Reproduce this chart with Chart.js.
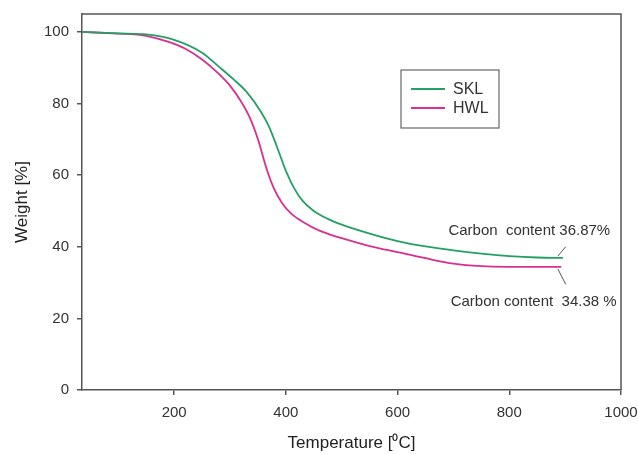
<!DOCTYPE html>
<html>
<head>
<meta charset="utf-8">
<script src="https://cdn.jsdelivr.net/npm/chart.js@4.4.0/dist/chart.umd.min.js"></script>
<style>
  html, body { margin: 0; padding: 0; background: #fff; }
  #wrap { width: 638px; height: 454px; }
</style>
</head>
<body>
<div id="wrap"><canvas id="tgaChart"></canvas></div>
<script>
// TGA curves
const sklTemp = [35, 100, 150, 200, 250, 280, 306, 330, 355, 370, 385, 400, 415, 430, 450, 475, 500, 550, 600, 650, 700, 750, 800, 850, 896];
const sklWeight = [100, 99.6, 99.3, 97.8, 94.2, 90.3, 86.8, 83.2, 77.8, 73.5, 67.5, 61.2, 56.3, 52.8, 50.0, 47.8, 46.2, 43.7, 41.6, 40.1, 39.0, 38.1, 37.4, 37.0, 36.9];

const hwlTemp = [35, 100, 130, 150, 190, 220, 250, 280, 300, 320, 335, 350, 365, 378, 393, 410, 430, 460, 500, 550, 600, 650, 700, 750, 800, 850, 893];
const hwlWeight = [100, 99.5, 99.3, 98.9, 97.2, 95.3, 92.3, 88.3, 85.0, 80.5, 76.2, 70.0, 62.0, 56.5, 52.2, 49.2, 47.0, 44.5, 42.4, 40.2, 38.5, 36.8, 35.3, 34.6, 34.4, 34.38, 34.38];

const xTicks = [200, 400, 600, 800, 1000];
const yTicks = [0, 20, 40, 60, 80, 100];

const seriesNames = ['SKL', 'HWL'];
const seriesColors = ['#23a063', '#d92f8f'];

// annotation texts with their anchor (temperature, weight)
const notes = [
  { text: 'Carbon  content 36.87%', x: 691, y: 44.4, from: [887, 37.4], to: [901, 40.0] },
  { text: 'Carbon content  34.38 %', x: 695, y: 24.5, from: [887, 33.8], to: [901, 29.5] }
];

const toPoints = (xs, ys) => xs.map((x, i) => ({ x: x, y: ys[i] }));

const FONT = "'Liberation Sans', Arial, sans-serif";
const axisColor = '#555';

const extras = {
  id: 'extras',
  afterDraw(chart) {
    const ctx = chart.ctx;
    const a = chart.chartArea;
    const xs = chart.scales.x, ys = chart.scales.y;
    ctx.save();
    // frame top + right
    ctx.strokeStyle = axisColor;
    ctx.lineWidth = 1.5;
    ctx.beginPath();
    ctx.moveTo(a.left, a.top);
    ctx.lineTo(a.right, a.top);
    ctx.lineTo(a.right, a.bottom);
    ctx.stroke();

    // legend box
    ctx.strokeStyle = '#666';
    ctx.lineWidth = 1.2;
    ctx.strokeRect(401, 70, 98, 58);
    ctx.font = '16px ' + FONT;
    ctx.textBaseline = 'middle';
    ctx.textAlign = 'left';
    seriesNames.forEach((name, i) => {
      const y = 89 + i * 19;
      ctx.strokeStyle = seriesColors[i];
      ctx.lineWidth = 1.8;
      ctx.beginPath();
      ctx.moveTo(411, y);
      ctx.lineTo(445, y);
      ctx.stroke();
      ctx.fillStyle = '#333';
      ctx.fillText(name, 453, y + 1);
    });

    // carbon content notes
    ctx.font = '15px ' + FONT;
    notes.forEach(n => {
      ctx.fillStyle = '#333';
      ctx.fillText(n.text, xs.getPixelForValue(n.x), ys.getPixelForValue(n.y));
      ctx.strokeStyle = '#555';
      ctx.lineWidth = 1;
      ctx.beginPath();
      ctx.moveTo(xs.getPixelForValue(n.from[0]), ys.getPixelForValue(n.from[1]));
      ctx.lineTo(xs.getPixelForValue(n.to[0]), ys.getPixelForValue(n.to[1]));
      ctx.stroke();
    });
    ctx.restore();
  }
};

const ctx = document.getElementById('tgaChart').getContext('2d');
const chart = new Chart(ctx, {
  type: 'line',
  data: {
    datasets: [
      {
        label: seriesNames[0],
        data: toPoints(sklTemp, sklWeight),
        borderColor: seriesColors[0],
        borderWidth: 1.8,
        pointRadius: 0,
        cubicInterpolationMode: 'monotone',
        fill: false
      },
      {
        label: seriesNames[1],
        data: toPoints(hwlTemp, hwlWeight),
        borderColor: seriesColors[1],
        borderWidth: 1.8,
        pointRadius: 0,
        cubicInterpolationMode: 'monotone',
        fill: false
      }
    ]
  },
  options: {
    responsive: true,
    maintainAspectRatio: false,
    animation: false,
    layout: { padding: { top: 14, right: 17, left: 0, bottom: 0 } },
    plugins: {
      legend: { display: false },
      tooltip: { enabled: false }
    },
    scales: {
      x: {
        type: 'linear',
        min: 35,
        max: 1000,
        afterBuildTicks: s => { s.ticks = xTicks.map(v => ({ value: v })); },
        afterFit: s => { s.height = 64; s.paddingLeft = 0; s.paddingRight = 0; },
        border: { color: axisColor, width: 1.5 },
        grid: { drawOnChartArea: false, tickLength: 5, color: axisColor, lineWidth: 1.5 },
        ticks: {
          color: '#333', font: { family: FONT, size: 15 }, padding: 9, maxRotation: 0,
          callback: v => String(v)
        },
        title: {
          display: true,
          text: 'Temperature [⁰C]',
          color: '#222',
          font: { family: FONT, size: 17 },
          padding: { top: 6, bottom: 0 }
        }
      },
      y: {
        min: 0,
        max: 105,
        afterBuildTicks: s => { s.ticks = yTicks.map(v => ({ value: v })); },
        afterFit: s => { s.width = 82; s.paddingTop = 0; s.paddingBottom = 0; },
        border: { color: axisColor, width: 1.5 },
        grid: { drawOnChartArea: false, tickLength: 5, color: axisColor, lineWidth: 1.5 },
        ticks: { color: '#333', font: { family: FONT, size: 15 }, padding: 8 },
        title: {
          display: true,
          text: 'Weight [%]',
          color: '#222',
          font: { family: FONT, size: 17 },
          padding: { top: 12, bottom: 0 }
        }
      }
    }
  },
  plugins: [extras]
});
</script>
</body>
</html>
